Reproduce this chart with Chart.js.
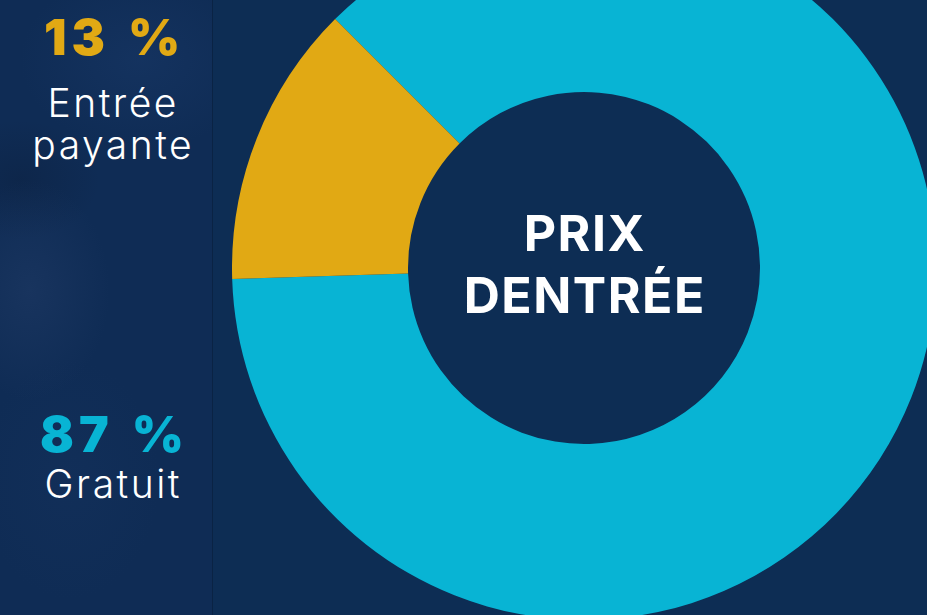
<!DOCTYPE html>
<html lang="fr">
<head>
<meta charset="utf-8">
<script src="https://cdn.jsdelivr.net/npm/chart.js@4"></script>
<style>
  html, body { margin: 0; padding: 0; }
  body {
    width: 927px; height: 615px; overflow: hidden; position: relative;
    background: #0d2d54; font-family: Inter, "Open Sans", sans-serif;
  }
  #side {
    position: absolute; left: 0; top: 0; width: 212px; height: 615px;
    border-right: 1px solid #0a2344;
    background:
      radial-gradient(ellipse 80px 110px at 30px 290px, rgba(45,70,115,0.3), transparent),
      radial-gradient(ellipse 120px 90px at 140px 60px, rgba(35,70,125,0.25), transparent),
      radial-gradient(ellipse 80px 60px at 20px 180px, rgba(10,25,50,0.3), transparent),
      radial-gradient(ellipse 90px 120px at 70px 480px, rgba(25,55,100,0.25), transparent),
      #0f2c55;
  }
  .pct {
    position: absolute; left: 0; width: 224px; text-align: center;
    font-weight: 900; font-size: 50px; line-height: 50px;
    letter-spacing: 5px; word-spacing: 3px; padding-left: 5px; box-sizing: border-box;
  }
  .lbl {
    position: absolute; left: 0; width: 224px; text-align: center; color: #fff;
    font-weight: 300; font-size: 39px; line-height: 42px;
    letter-spacing: 2.5px; padding-left: 2.5px; box-sizing: border-box;
  }
  #wrap { position: absolute; left: 232px; top: -84px; width: 704px; height: 704px; }
  #centre {
    position: absolute; left: 434px; top: 202px; width: 300px; text-align: center;
    color: #fff; font-weight: 700; font-size: 50px; line-height: 62px;
    letter-spacing: 1.5px; padding-left: 1.5px; box-sizing: border-box;
  }
</style>
</head>
<body>
<div id="side"></div>
<div id="wrap"><canvas id="prixChart" width="704" height="704"></canvas></div>
<div id="centre">PRIX<br>DENTRÉE</div>
<script>
// Répartition du prix d'entrée
const categories = ['Gratuit', 'Entrée payante'];
const values = [87, 13];
const colors = ['#08b4d4', '#e1a914'];

// Légendes à gauche (payante en haut, gratuit en bas)
const legendTops = { 'Entrée payante': [12, 82], 'Gratuit': [409, 463] };
const labelLines = { 'Entrée payante': 'Entrée<br>payante', 'Gratuit': 'Gratuit' };
const side = document.getElementById('side');
categories.forEach((cat, i) => {
  const p = document.createElement('div');
  p.className = 'pct';
  p.style.top = legendTops[cat][0] + 'px';
  p.style.color = colors[i];
  p.textContent = values[i] + ' %';
  side.appendChild(p);
  const l = document.createElement('div');
  l.className = 'lbl';
  l.style.top = legendTops[cat][1] + 'px';
  l.innerHTML = labelLines[cat];
  side.appendChild(l);
});

const ctx = document.getElementById('prixChart');
new Chart(ctx.getContext('2d'), {
  type: 'doughnut',
  data: {
    labels: categories,
    datasets: [{
      data: values,
      backgroundColor: colors,
      borderWidth: 0
    }]
  },
  options: {
    responsive: false,
    animation: false,
    cutout: '50%',
    rotation: -45,
    layout: { padding: 0 },
    plugins: {
      legend: { display: false },
      tooltip: { enabled: false }
    }
  }
});
</script>
</body>
</html>
